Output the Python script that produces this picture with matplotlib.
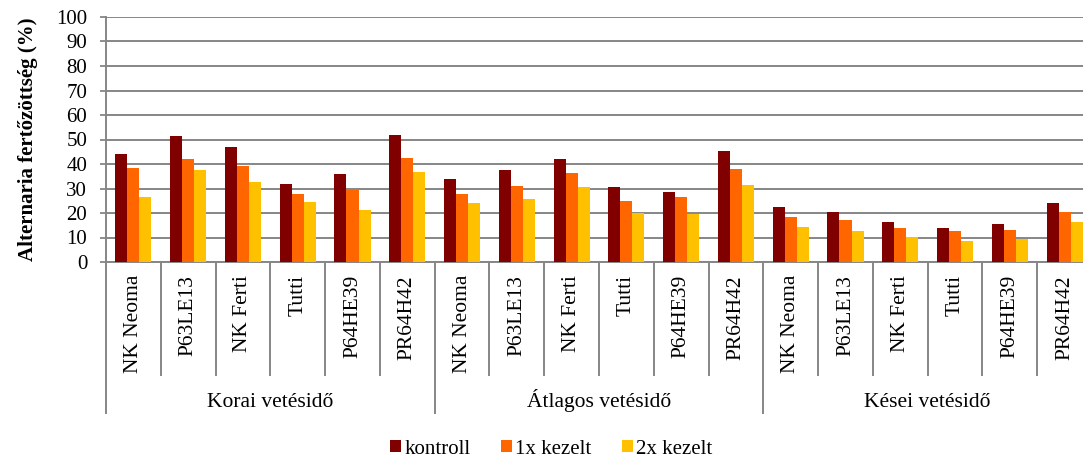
import matplotlib
matplotlib.use("Agg")
import matplotlib.pyplot as plt
from matplotlib.patches import Patch
from matplotlib.lines import Line2D
import numpy as np

groups = ["Korai vetésidő", "Átlagos vetésidő", "Kései vetésidő"]
hybrids = ["NK Neoma", "P63LE13", "NK Ferti", "Tutti", "P64HE39", "PR64H42"]
series_names = ["kontroll", "1x kezelt", "2x kezelt"]
colors = ["#800000", "#FF6600", "#FFC000"]

kontroll = [44.1, 51.5, 47.0, 31.9, 35.8, 51.8,
            33.9, 37.5, 42.0, 30.7, 28.5, 45.2,
            22.6, 20.4, 16.2, 14.0, 15.5, 24.0]
kezelt1 = [38.4, 42.1, 39.1, 27.8, 29.2, 42.5,
           27.7, 31.2, 36.4, 25.1, 26.6, 37.9,
           18.4, 17.2, 13.9, 12.7, 13.2, 20.4]
kezelt2 = [26.7, 37.6, 32.7, 24.5, 21.3, 36.8,
           24.1, 25.7, 30.5, 20.2, 19.5, 31.5,
           14.2, 12.5, 10.2, 8.6, 9.3, 16.3]

yticks = list(range(0, 101, 10))

plt.rcParams['font.family'] = ['Liberation Serif', 'DejaVu Serif']
serif = ['Liberation Serif', 'DejaVu Serif']

W, H = 1083, 457
fig = plt.figure(figsize=(W / 100, H / 100), dpi=100)
left, right, bottom, top = 106, 1092, 262, 17
ax = fig.add_axes([left / W, (H - bottom) / H, (right - left) / W, (bottom - top) / H])

n = len(kontroll)
x = np.arange(n)
bw = 0.22
for i, (vals, c) in enumerate(zip([kontroll, kezelt1, kezelt2], colors)):
    ax.bar(x + (i - 1) * bw, vals, width=bw, color=c, edgecolor='none', zorder=3)

gray = '#868686'
ax.set_xlim(-0.5, n - 0.5)
ax.set_ylim(0, 100)
ax.set_yticks(yticks)
ax.set_yticklabels([str(t) for t in yticks], fontsize=15, family=serif)
ax.tick_params(axis='y', length=4.5, width=1.3, color=gray, pad=9)
ax.set_xticks([])
ax.grid(axis='y', color=gray, linewidth=1.4, zorder=0)
for s in ['top', 'right', 'left']:
    ax.spines[s].set_visible(False)
ax.spines['bottom'].set_color(gray)
ax.spines['bottom'].set_linewidth(1.4)

ah = bottom - top
y_cat = -(375 - bottom) / ah
y_grp = -(413 - bottom) / ah
trans = ax.get_xaxis_transform()
ax.add_line(Line2D([-0.5, -0.5], [1, y_grp], transform=trans, color=gray, lw=1.4,
                   clip_on=False, zorder=5))
for b in range(1, n + 1):
    xb = b - 0.5
    yend = y_grp if b % 6 == 0 else y_cat
    ax.add_line(Line2D([xb, xb], [0, yend], transform=trans, color=gray, lw=1.4, clip_on=False))

for i in range(n):
    ax.text(i, -(275 - bottom) / ah, hybrids[i % 6], rotation=90, ha='center', va='top',
            fontsize=15.5, family=serif, transform=trans)
for g, name in enumerate(groups):
    ax.text(g * 6 + 2.5, -(407 - bottom) / ah, name, ha='center', va='baseline',
            fontsize=15.5, family=serif, transform=trans)

ax.set_ylabel("Alternaria fertőzöttség (%)", fontsize=15, fontweight='bold', family=serif,
              labelpad=13)

handles = [Patch(facecolor=c, edgecolor='none') for c in colors]
fig.legend(handles, series_names, loc='center', bbox_to_anchor=(551 / W, (H - 449) / H), ncol=3,
           frameon=False, prop={'family': serif, 'size': 15}, handlelength=0.55, handleheight=0.55,
           handletextpad=0.15, columnspacing=1.45)

fig.savefig("out.png", dpi=100)
